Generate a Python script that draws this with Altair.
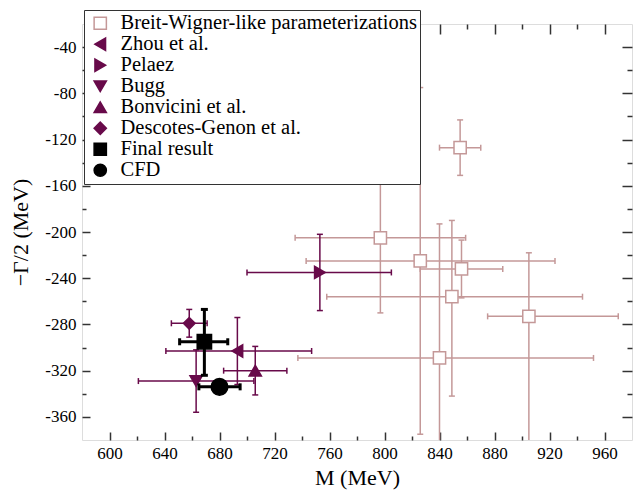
import altair as alt
import pandas as pd

# ---- data ----
bw_name = "Breit-Wigner-like parameterizations"
bw_x = [855, 797, 826, 856, 849, 840, 905]
bw_y = [-127, -205, -225, -232, -256, -309, -273]
bw_xlo = [840, 735, 743, 826, 758, 737, 875]
bw_xhi = [870, 859, 924, 886, 944, 952, 970]
bw_ylo = [-151, -270, -375, -257, -342, -425, -430]
bw_yhi = [-103, -140, -75, -207, -190, -193, -218]

ref_names = ["Zhou et al.", "Pelaez", "Bugg", "Bonvicini et al.",
             "Descotes-Genon et al.", "Final result", "CFD"]
ref_x = [693, 753, 663, 706, 658, 669, 680]
ref_y = [-303, -235, -329, -320, -279, -295, -334]
ref_xlo = [641, 700, 621, 683, 645, 651, 665]
ref_xhi = [747, 805, 705, 729, 671, 686, 695]
ref_ylo = [-332, -268, -356, -341, -291, -324, -337]
ref_yhi = [-274, -202, -302, -299, -267, -267, -331]
ref_group = ["purple", "purple", "purple", "purple", "purple", "black", "black"]

x_major = [600, 640, 680, 720, 760, 800, 840, 880, 920, 960]
x_minor = [620, 660, 700, 740, 780, 820, 860, 900, 940]
y_major = [-360, -320, -280, -240, -200, -160, -120, -80, -40]
y_minor = [-340, -300, -260, -220, -180, -140, -100, -60]

# ---- styles ----
PINK = "#c49898"
PURPLE = "#680a4a"
BLACK = "#000000"
style = {
    "bw": dict(color=PINK, lw=1.5, cap=6),
    "purple": dict(color=PURPLE, lw=1.5, cap=6),
    "black": dict(color=BLACK, lw=3, cap=7),
}
legend_domain = [bw_name] + ref_names
shape_range = ["square", "triangle-left", "triangle-right", "triangle-down",
               "triangle-up", "diamond", "square", "circle"]
fill_range = ["white", PURPLE, PURPLE, PURPLE, PURPLE, PURPLE, BLACK, BLACK]
stroke_range = [PINK, PURPLE, PURPLE, PURPLE, PURPLE, PURPLE, BLACK, BLACK]
marker_size = dict(zip(legend_domain, [150, 150, 150, 150, 150, 137, 205, 280]))

FONT = "Liberation Serif"
W, H = 550, 416

# ---- table ----
rows = []
for i in range(len(bw_x)):
    rows.append(dict(series=bw_name, grp="bw", x=bw_x[i], y=bw_y[i], xlo=bw_xlo[i],
                     xhi=bw_xhi[i], ylo=bw_ylo[i], yhi=bw_yhi[i]))
for i in range(len(ref_names)):
    rows.append(dict(series=ref_names[i], grp=ref_group[i], x=ref_x[i], y=ref_y[i],
                     xlo=ref_xlo[i], xhi=ref_xhi[i], ylo=ref_ylo[i], yhi=ref_yhi[i]))
df = pd.DataFrame(rows)
df["msize"] = df["series"].map(marker_size)

xscale = alt.Scale(domain=[580, 980], nice=False, zero=False)
yscale = alt.Scale(domain=[-380, -20], nice=False, zero=False)

leg = alt.Legend(title=None, orient="none", legendX=2, legendY=-14,
                 fillColor="white", strokeColor="#333333", padding=3,
                 rowPadding=0, labelFont=FONT, labelFontSize=20.5,
                 labelColor="black", symbolSize=150, symbolStrokeWidth=1.5,
                 symbolOffset=3, labelOffset=10, labelLimit=600)


def X(f):
    return alt.X(f"{f}:Q", scale=xscale, axis=None)


def Y(f):
    return alt.Y(f"{f}:Q", scale=yscale, axis=None)


def group_layers(g):
    s = style[g]
    base = alt.Chart(df).transform_filter(alt.datum.grp == g)
    hbar = base.mark_rule(clip=True, color=s["color"], strokeWidth=s["lw"]).encode(
        x=X("xlo"), x2="xhi", y=Y("y"))
    vbar = base.mark_rule(clip=True, color=s["color"], strokeWidth=s["lw"]).encode(
        x=X("x"), y=Y("ylo"), y2="yhi")
    hcap = base.transform_fold(["xlo", "xhi"], as_=["k", "v"]).mark_point(
        shape="M0,-1L0,1", size=s["cap"] ** 2, stroke=s["color"], strokeWidth=s["lw"],
        filled=False, opacity=1, clip=True).encode(x=X("v"), y=Y("y"))
    vcap = base.transform_fold(["ylo", "yhi"], as_=["k", "v"]).mark_point(
        shape="M-1,0L1,0", size=s["cap"] ** 2, stroke=s["color"], strokeWidth=s["lw"],
        filled=False, opacity=1, clip=True).encode(x=X("x"), y=Y("v"))
    pts = base.mark_point(filled=True, opacity=1, strokeWidth=1.5).encode(
        x=X("x"), y=Y("y"),
        shape=alt.Shape("series:N", scale=alt.Scale(domain=legend_domain, range=shape_range), legend=leg),
        fill=alt.Fill("series:N", scale=alt.Scale(domain=legend_domain, range=fill_range), legend=leg),
        stroke=alt.Stroke("series:N", scale=alt.Scale(domain=legend_domain, range=stroke_range), legend=leg),
        size=alt.Size("msize:Q", scale=None),
    )
    return [hbar, vbar, hcap, vcap, pts]


def axis_layer(xaxis, yaxis):
    return alt.Chart(df).mark_point(opacity=0).encode(
        x=alt.X("x:Q", scale=xscale, axis=xaxis),
        y=alt.Y("y:Q", scale=yscale, axis=yaxis))


lab = dict(labelFont=FONT, labelFontSize=17, labelColor="black",
           titleFont=FONT, titleFontSize=22, titleFontWeight="normal", titleColor="black",
           domain=False, ticks=False, grid=False)
tk = dict(labels=False, domain=False, grid=False, title=None, tickColor="#333333", tickWidth=1.5)

axes = [
    axis_layer(
        alt.Axis(orient="bottom", values=x_major, labelExpr="'' + datum.value",
                 title="M (MeV)", labelPadding=5, titlePadding=6, **lab),
        alt.Axis(orient="left", values=y_major, labelExpr="'' + datum.value",
                 title="\u2212\u0393/2 (MeV)", labelPadding=6, titlePadding=12, **lab)),
    axis_layer(alt.Axis(orient="top", offset=-H, values=x_major, tickSize=8, **tk),
               alt.Axis(orient="right", offset=-W, values=y_major, tickSize=8, **tk)),
    axis_layer(alt.Axis(orient="top", offset=-H, values=x_minor, tickSize=4, **tk),
               alt.Axis(orient="right", offset=-W, values=y_minor, tickSize=4, **tk)),
    axis_layer(alt.Axis(orient="bottom", offset=-H, values=x_major, tickSize=10, **tk),
               alt.Axis(orient="left", offset=-W, values=y_major, tickSize=10, **tk)),
    axis_layer(alt.Axis(orient="bottom", offset=-H, values=x_minor, tickSize=5, **tk),
               alt.Axis(orient="left", offset=-W, values=y_minor, tickSize=5, **tk)),
]

layers = axes + group_layers("bw") + group_layers("purple") + group_layers("black")

chart = alt.layer(*layers).resolve_axis(x="independent", y="independent").properties(
    width=W, height=H,
    padding={"left": 82, "top": 24, "right": 4, "bottom": 51},
    autosize=alt.AutoSizeParams(type="none"),
).configure_view(stroke="#333333", strokeWidth=1.5).configure(background="white")

chart.save("out.html", embed_options={"renderer": "svg", "actions": False})
